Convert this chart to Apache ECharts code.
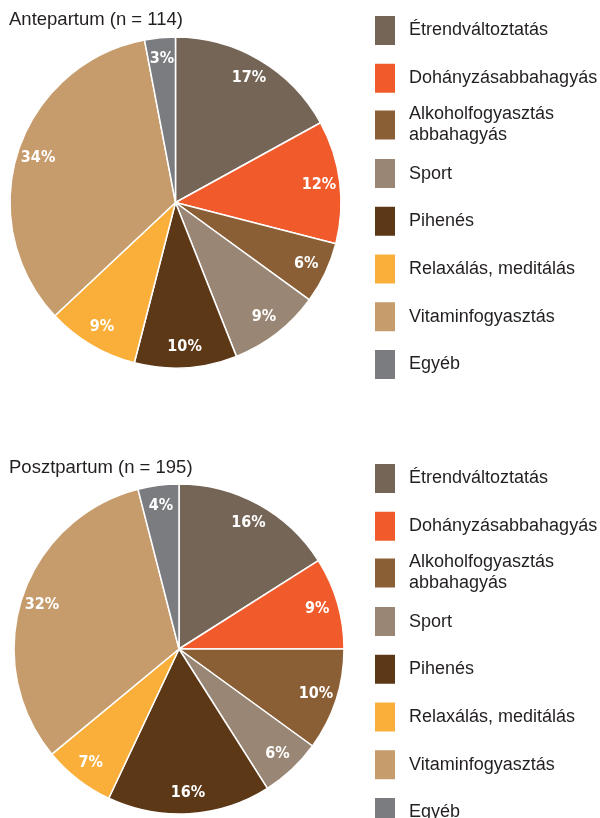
<!DOCTYPE html>
<html>
<head>
<meta charset="utf-8">
<script src="https://cdn.jsdelivr.net/npm/echarts@6/dist/echarts.min.js"></script>
<style>
  html, body { margin: 0; padding: 0; background: #fff; }
  #chart { width: 600px; height: 818px; }
</style>
</head>
<body>
<div id="chart"></div>
<script>
  // kategóriák (legend sorrend = szeletek sorrendje)
  const categories = [
    'Étrendváltoztatás',
    'Dohányzásabbahagyás',
    'Alkoholfogyasztás\nabbahagyás',
    'Sport',
    'Pihenés',
    'Relaxálás, meditálás',
    'Vitaminfogyasztás',
    'Egyéb'
  ];
  const colors = ['#756556', '#F15A2B', '#8B5F36', '#9A8674', '#5C3816', '#FAAF3A', '#C69C6D', '#7B7C80'];

  const antepartum = [17, 12, 6, 9, 10, 9, 34, 3];
  const posztpartum = [16, 9, 10, 6, 16, 7, 32, 4];

  const titles = ['Antepartum (n = 114)', 'Posztpartum (n = 195)'];

  const myChart = echarts.init(document.getElementById('chart'), null, { renderer: 'canvas' });

  const toData = vals => vals.map((v, i) => ({ name: categories[i], value: v, itemStyle: { color: colors[i] } }));

  function pieSeries(vals, center, r) {
    return [{
      type: 'pie',
      center: center,
      radius: [0, r],
      startAngle: 90,
      clockwise: true,
      silent: true,
      label: { show: false },
      labelLine: { show: false },
      itemStyle: { borderColor: '#fff', borderWidth: 1.5 },
      data: toData(vals)
    }, {
      // csak a címkékhez: gyűrű a külső szélen, hogy a szám közel legyen a peremhez
      type: 'pie',
      center: center,
      radius: [r - 48, r],
      startAngle: 90,
      clockwise: true,
      silent: true,
      itemStyle: { color: 'transparent', borderWidth: 0 },
      label: {
        show: true,
        position: 'inside',
        formatter: '{c}%',
        color: '#fff',
        fontFamily: '"Liberation Sans Narrow", "DejaVu Sans Condensed", sans-serif',
        fontWeight: 'bold',
        fontSize: 16
      },
      labelLine: { show: false },
      data: vals.map((v, i) => ({ name: categories[i], value: v }))
    }];
  }

  // egy legend elem soronként, hogy a kétsoros elem ne tolja el a többit
  function legends(firstTop) {
    return categories.map((name, i) => {
      const lines = name.split('\n').length;
      const h = Math.max(31, lines * 21);
      return {
        data: [name],
        left: 373,
        top: firstTop + i * 47.7 - (h - 31) / 2,
        orient: 'vertical',
        padding: 0,
        itemWidth: 22,
        itemHeight: 31,
        icon: 'rect',
        selectedMode: false,
        textStyle: {
          fontFamily: '"Liberation Sans", Arial, sans-serif',
          fontSize: 18,
          lineHeight: 21,
          color: '#231F20',
          padding: [0, 0, 0, 8]
        }
      };
    });
  }

  const titleStyle = { fontFamily: '"Liberation Sans", Arial, sans-serif', fontSize: 18.5, fontWeight: 'normal', color: '#231F20' };

  myChart.setOption({
    animation: false,
    title: [
      { text: titles[0], left: 9, top: 10, padding: 0, textStyle: titleStyle },
      { text: titles[1], left: 9, top: 458, padding: 0, textStyle: titleStyle }
    ],
    legend: legends(14).concat(legends(462)),
    series: pieSeries(antepartum, [175.5, 202.5], 165.5).concat(pieSeries(posztpartum, [179, 649], 165))
  });
</script>
</body>
</html>
